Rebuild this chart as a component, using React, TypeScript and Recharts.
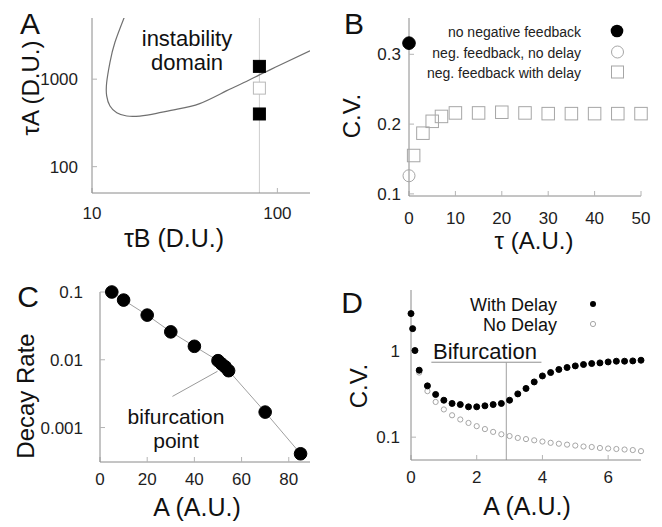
import { ComposedChart, Line, ReferenceLine, Scatter, XAxis, YAxis } from "recharts";

const font = '"Liberation Sans", Arial, Helvetica, sans-serif';
const frame = "#8a8a8a";
const tickGray = "#b4b4b4";
const openGray = "#a6a6a6";
const tickStyle = { fontSize: 17, fill: "#1e1e1e", fontFamily: font };

// A: instability boundary in the (tauB, tauA) plane, plus the three runs at tauB = 80
const boundaryTauB = [15.1, 13.3, 12.5, 12.0, 12.0, 12.5, 13.6, 15.4, 18.1, 22.3, 28.5, 38.1, 53, 68, 80, 102, 150];
const boundaryTauA = [5400, 2640, 1556, 916, 643, 493, 414, 379, 379, 407, 452, 526, 734, 940, 1120, 1430, 2114];
const unstableRunTauB = [80, 80];
const unstableRunTauA = [1400, 400];
const stableRunTauB = [80];
const stableRunTauA = [790];

// B: C.V. against delay
const noFeedbackTau = [0];
const noFeedbackCv = [0.316];
const noDelayTau = [0];
const noDelayCv = [0.126];
const withDelayTau = [1, 3, 5, 7, 10, 15, 20, 25, 30, 35, 40, 45, 50];
const withDelayCv = [0.155, 0.187, 0.204, 0.211, 0.216, 0.216, 0.217, 0.216, 0.215, 0.215, 0.215, 0.215, 0.215];

// C: decay rate against A
const decayA = [5, 10, 20, 30, 40, 50, 51.5, 53, 54.5, 70, 85];
const decayRate = [0.1, 0.076, 0.0456, 0.0258, 0.0158, 0.0097, 0.0087, 0.0079, 0.0069, 0.00169, 0.00041];

// D: C.V. against A, with and without delay
const delayA = [0, 0.05, 0.12, 0.25, 0.5, 0.75, 1, 1.25, 1.5, 1.75, 2, 2.25, 2.5, 2.75, 3, 3.25, 3.5, 3.75, 4, 4.25, 4.5, 4.75, 5, 5.25, 5.5, 5.75, 6, 6.25, 6.5, 6.75, 7];
const delayCvD = [2.67, 1.79, 1.0, 0.593, 0.391, 0.311, 0.267, 0.245, 0.238, 0.224, 0.224, 0.23, 0.238, 0.245, 0.267, 0.316, 0.365, 0.434, 0.509, 0.557, 0.604, 0.637, 0.665, 0.69, 0.708, 0.72, 0.739, 0.753, 0.753, 0.759, 0.773];
const plainA = [0.25, 0.5, 0.75, 1, 1.25, 1.5, 1.75, 2, 2.25, 2.5, 2.75, 3, 3.25, 3.5, 3.75, 4, 4.25, 4.5, 4.75, 5, 5.25, 5.5, 5.75, 6, 6.25, 6.5, 6.75, 7];
const plainCvD = [0.557, 0.34, 0.255, 0.209, 0.179, 0.16, 0.146, 0.134, 0.124, 0.115, 0.108, 0.103, 0.098, 0.095, 0.092, 0.089, 0.086, 0.084, 0.082, 0.08, 0.078, 0.077, 0.075, 0.074, 0.073, 0.072, 0.071, 0.069];

const zip = (xs: number[], ys: number[]) => xs.map((x, i) => ({ x, y: ys[i] }));

const disc = (r: number, fill: string, stroke: string) => (p: any) => <circle cx={p.cx} cy={p.cy} r={r} fill={fill} stroke={stroke} strokeWidth={1} />;
const box = (s: number, fill: string, stroke: string) => (p: any) => <rect x={p.cx - s / 2} y={p.cy - s / 2} width={s} height={s} fill={fill} stroke={stroke} strokeWidth={1} />;

// bottom/left axes with labels, top/right mirrors for the closed gnuplot frame
function frameAxes(x: any, y: any, xMargin: number, yMargin: number, yWidth: number) {
  const common = { type: "number" as const, tickSize: -5, axisLine: { stroke: frame }, tickLine: { stroke: tickGray }, allowDataOverflow: x.overflow };
  return [
    <XAxis key="xb" dataKey="x" {...common} scale={x.scale} domain={x.domain} ticks={x.ticks} height={40} tickMargin={xMargin} tick={tickStyle} tickFormatter={x.fmt} />,
    <YAxis key="yl" dataKey="y" {...common} scale={y.scale} domain={y.domain} ticks={y.ticks} width={yWidth} tickMargin={yMargin} tick={tickStyle} tickFormatter={y.fmt} />,
    <XAxis key="xt" xAxisId="top" orientation="top" {...common} scale={x.scale} domain={x.domain} ticks={x.ticks} height={0} tickFormatter={() => ""} />,
    <YAxis key="yr" yAxisId="right" orientation="right" {...common} scale={y.scale} domain={y.domain} ticks={y.ticks} width={0} tickFormatter={() => ""} />,
  ];
}

function PanelA() {
  return (
    <ComposedChart width={331} height={263} margin={{ top: 18, right: 21, bottom: 30, left: 32 }}>
      {frameAxes({ scale: "log", domain: [10, 150], ticks: [10, 100], overflow: true }, { scale: "log", domain: [50, 5000], ticks: [100, 1000] }, 19, 19, 60)}
      <ReferenceLine x={80} stroke="#cdcdcd" />
      <Line data={zip(boundaryTauB, boundaryTauA)} dataKey="y" type="natural" stroke="#707070" strokeWidth={1.2} dot={false} isAnimationActive={false} />
      <Scatter data={zip(unstableRunTauB, unstableRunTauA)} shape={box(12, "#000", "#000")} isAnimationActive={false} />
      <Scatter data={zip(stableRunTauB, stableRunTauA)} shape={box(12, "#fff", "#b8b8b8")} isAnimationActive={false} />
    </ComposedChart>
  );
}

function PanelB() {
  return (
    <ComposedChart width={331} height={263} margin={{ top: 18, right: 21, bottom: 27, left: 28 }}>
      {frameAxes({ domain: [0, 50], ticks: [0, 10, 20, 30, 40, 50] }, { domain: [0.097, 0.352], ticks: [0.1, 0.2, 0.3], fmt: (v: number) => v.toFixed(1) }, 21, 13, 50)}
      <Scatter data={zip(withDelayTau, withDelayCv)} shape={box(12.5, "none", openGray)} isAnimationActive={false} />
      <Scatter data={zip(noDelayTau, noDelayCv)} shape={disc(6, "none", openGray)} isAnimationActive={false} />
      <Scatter data={zip(noFeedbackTau, noFeedbackCv)} shape={disc(6.3, "#000", "#000")} isAnimationActive={false} />
    </ComposedChart>
  );
}

function PanelC() {
  return (
    <ComposedChart width={331} height={264} margin={{ top: 29, right: 21, bottom: 25, left: 40 }}>
      {frameAxes({ domain: [0, 89], ticks: [0, 20, 40, 60, 80] }, { scale: "log", domain: [0.00031, 0.1], ticks: [0.001, 0.01, 0.1], fmt: (v: number) => String(v) }, 16, 22, 60)}
      <ReferenceLine segment={[{ x: 30.7, y: 0.00288 }, { x: 49.8, y: 0.00676 }]} stroke="#9a9a9a" />
      <Line data={zip(decayA, decayRate)} dataKey="y" type="linear" stroke="#a0a0a0" strokeWidth={1} dot={{ r: 6.3, fill: "#000", stroke: "#000" }} isAnimationActive={false} />
    </ComposedChart>
  );
}

function PanelD() {
  return (
    <ComposedChart width={331} height={264} margin={{ top: 27, right: 21, bottom: 27, left: 30 }}>
      {frameAxes({ domain: [0, 7], ticks: [0, 2, 4, 6] }, { scale: "log", domain: [0.0545, 5], ticks: [0.1, 1], fmt: (v: number) => String(v) }, 16, 16, 50)}
      <ReferenceLine segment={[{ x: 0.62, y: 0.733 }, { x: 3.97, y: 0.733 }]} stroke="#8f8f8f" />
      <ReferenceLine segment={[{ x: 2.9, y: 0.733 }, { x: 2.9, y: 0.0545 }]} stroke="#a0a0a0" />
      <Scatter data={zip(plainA, plainCvD)} shape={disc(2.6, "#fff", openGray)} isAnimationActive={false} />
      <Scatter data={zip(delayA, delayCvD)} shape={disc(3, "#000", "#000")} isAnimationActive={false} />
    </ComposedChart>
  );
}

const letter = { fontSize: 30, fontFamily: font, fill: "#111", textAnchor: "middle" as const, dominantBaseline: "central" as const };
const title = { fontSize: 24, fontFamily: font, fill: "#111", textAnchor: "middle" as const, dominantBaseline: "central" as const };
const wideTitle = { ...title, fontSize: 25 };
const note = { fontSize: 22, fontFamily: font, fill: "#111", textAnchor: "middle" as const };

export default function App() {
  return (
    <div style={{ position: "absolute", left: 0, top: 0, width: 662, height: 527, background: "#fff" }}>
      <div style={{ position: "absolute", left: 0, top: 0 }}><PanelA /></div>
      <div style={{ position: "absolute", left: 331, top: 0 }}><PanelB /></div>
      <div style={{ position: "absolute", left: 0, top: 263 }}><PanelC /></div>
      <div style={{ position: "absolute", left: 331, top: 263 }}><PanelD /></div>
      <svg width={662} height={527} style={{ position: "absolute", left: 0, top: 0, pointerEvents: "none" }}>
        <text x={30} y={23} {...letter}>A</text>
        <text x={354} y={23} {...letter}>B</text>
        <text x={28} y={296} {...letter}>C</text>
        <text x={352} y={302} {...letter}>D</text>

        <text transform="translate(30,88) rotate(-90)" {...title}>τA (D.U.)</text>
        <text x={174} y={238} {...wideTitle}>τB (D.U.)</text>
        <text transform="translate(351,116) rotate(-90)" {...title}>C.V.</text>
        <text x={534} y={240} {...title}>τ (A.U.)</text>
        <text transform="translate(25,396) rotate(-90)" {...title}>Decay Rate</text>
        <text x={197} y={507} {...wideTitle}>A (A.U.)</text>
        <text x={527} y={506} {...wideTitle}>A (A.U.)</text>
        <text transform="translate(358,386) rotate(-90)" {...title}>C.V.</text>

        <text x={187} y={46} {...note}>instability</text>
        <text x={187} y={70} {...note}>domain</text>
        <text x={176} y={424} {...note} fontSize={21}>bifurcation</text>
        <text x={176} y={448} {...note} fontSize={21}>point</text>
        <text x={485} y={359} {...note}>Bifurcation</text>

        <g fontSize={14} fontFamily={font} fill="#222" textAnchor="end" dominantBaseline="central">
          <text x={581} y={32}>no negative feedback</text>
          <text x={581} y={53}>neg. feedback, no delay</text>
          <text x={581} y={73}>neg. feedback with delay</text>
        </g>
        <circle cx={617} cy={31} r={6.3} fill="#000" />
        <circle cx={617.5} cy={52} r={6} fill="none" stroke={openGray} />
        <rect x={611.5} y={66} width={12} height={12} fill="none" stroke={openGray} />

        <g fontSize={18} fontFamily={font} fill="#111" textAnchor="end" dominantBaseline="central">
          <text x={557} y={305}>With Delay</text>
          <text x={557} y={325}>No Delay</text>
        </g>
        <circle cx={593} cy={304} r={3} fill="#000" />
        <circle cx={593} cy={324} r={2.6} fill="#fff" stroke={openGray} />
      </svg>
    </div>
  );
}
